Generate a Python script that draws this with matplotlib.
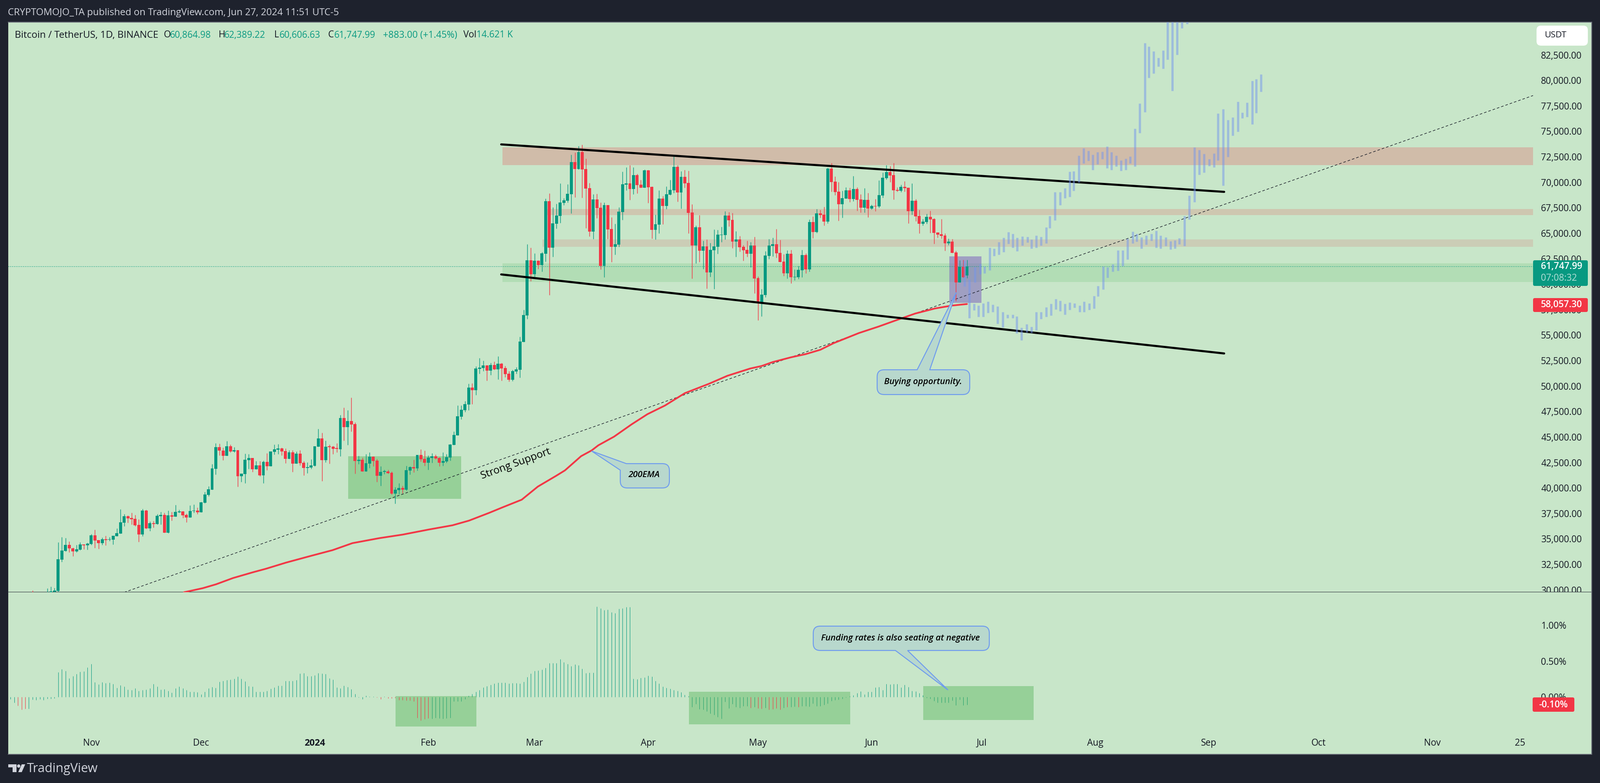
import numpy as np
import matplotlib
matplotlib.use("Agg")
import matplotlib.pyplot as plt
from matplotlib.path import Path
from matplotlib.patches import PathPatch, Rectangle, Circle, Polygon, FancyBboxPatch
from matplotlib.ticker import FuncFormatter

# ------------------------------------------------------------------ data
FIRST_CANDLE_DAY = -77   # days counted from 2024-01-01

candle_open = [
 28500,28400,28300,28700,29600,29700,29810,29915,32976,33829,
 34423,34057,33783,33950,34469,34378,34499,35352,34895,34590,
 34971,34925,34925,35275,35535,36600,37240,37058,36982,36387,
 35443,37789,36037,36540,36464,37240,37362,35611,37332,37180,
 37637,37713,37377,37103,37743,37789,37622,38550,39342,39830,
 41900,44018,43652,43165,44094,43607,43713,41170,41368,42739,
 42952,41825,42221,41246,42571,42145,43546,43759,43881,43622,
 42860,43500,42388,43378,42480,41987,42015,
 42186,44062,44871,42740,44047,44062,43877,43806,46875,45980,
 46577,46278,42655,42783,41632,42399,43081,42697,41205,41603,
 41632,41504,39458,39799,40012,39841,41717,42058,41930,43251,
 42868,42484,42953,43124,42953,42484,42612,42996,44232,45170,
 47003,47643,48197,49859,49603,51694,51779,52035,51523,52077,
 51651,52205,51779,51225,50628,51438,51608,54337,56956,62355,
 60992,62313,61887,62995,68153,63592,65937,66704,67983,68196,
 68835,71990,71308,72970,71308,69432,65169,68324,67514,61801,
 67770,65425,63677,63890,67088,69773,69901,69347,70711,69773,
 69475,71180,69560,65340,65851,68409,67684,68793,69219,71521,
 69006,70541,69944,67045,63805,65596,63293,63720,61162,63336,
 63677,64828,64828,66746,66320,64189,64402,63677,63379,62995,
 63804,60607,58263,58945,62781,63762,63932,63080,62227,61076,
 62994,60692,60692,61375,62866,61460,66106,65126,66959,66831,
 66149,71350,70071,69090,67854,68408,69218,68366,69346,68323,
 67513,68280,67428,67683,67641,68707,70412,71009,70710,69261,
 69176,69559,69474,67172,68195,66703,65936,66106,66618,66405,
 65083,64912,64785,64017,64187,63122,60180,61715,60864.98]
candle_high = [
 29950,28600,28900,29700,30159,30330,30190,34667,35184,35092,
 34773,34165,34438,34667,34469,34651,35504,35915,34895,35124,
 35321,35200,35321,36037,37910,37454,37332,37560,37362,36950,
 37941,37865,36723,36753,37454,37667,37560,37789,37667,38322,
 37865,37758,37484,38307,38398,38093,38657,39616,40180,42358,
 44399,44338,43957,44612,44277,44018,43713,41413,43393,43317,
 42952,42632,42662,42693,43424,43591,44262,44307,43957,43881,
 43728,43698,43576,43713,42662,42527,42811,
 44118,45809,45426,44658,44275,44147,44403,47174,47898,47643,
 48879,46449,43166,42982,43337,43507,43124,42868,42143,41802,
 41802,41632,40097,40481,40225,42186,42143,42783,43251,43806,
 43678,43209,43422,43294,43038,43507,43337,44317,45553,48111,
 48111,48538,50243,50285,51948,52760,52504,52077,52291,52418,
 52930,52291,51992,51481,51608,51864,54848,57482,63933,63592,
 63024,62355,63166,68409,68920,67556,67897,69901,68452,69816,
 72715,72928,73567,73695,72331,69944,68835,68878,68025,68025,
 67770,66576,65936,67556,71052,71478,71692,71478,70839,70242,
 71265,71223,69603,66832,69219,68665,69603,70242,72715,71692,
 71095,71223,71137,67855,65766,66789,64274,64402,64061,65382,
 65340,65638,67173,67088,67002,65212,64743,63848,64274,64146,
 64657,60778,59541,63250,64444,64571,65424,64358,62952,63335,
 63378,61460,61801,63378,63037,66362,66660,67385,67300,67598,
 71435,71904,70582,70028,69176,69517,69474,70625,69517,68834,
 69431,68962,67811,68366,70199,70966,71691,71605,71904,69517,
 69772,70113,69474,69900,68366,67300,66405,66916,67215,66490,
 65083,66405,64998,64486,64443,63293,62355,62397,62389.22]
candle_low = [
 28000,28100,28200,28600,29400,29500,29763,29825,32763,33790,
 33708,33327,33700,33906,33982,33966,34438,34130,34042,34438,
 34393,34800,34469,35275,35535,36265,36600,36417,36265,34712,
 35276,36000,35778,36144,36417,36417,35611,35565,36800,37180,
 37560,37058,36647,37103,37560,37454,37622,38520,39190,39830,
 41322,43200,42739,43165,43500,43500,40149,40606,40484,41900,
 41596,41825,41170,40484,41748,42145,43271,43348,43195,42434,
 42860,41596,42388,42205,41261,41475,41902,
 42129,44062,40708,42527,42413,43351,43507,43124,44658,44232,
 45553,41418,42356,41632,41632,41973,42143,40608,40225,41376,
 41418,39372,38477,39415,39500,39756,41333,41546,41717,42612,
 42186,41802,42484,42825,42143,42186,42484,42697,44232,45170,
 46747,47472,47643,48239,49134,51225,51480,50543,51097,51609,
 50670,50543,50884,50457,50500,51225,50841,54337,56596,60323,
 60750,61503,61247,62228,58945,62697,65468,66022,67770,68025,
 66960,68537,71265,68494,65510,64700,64444,66491,61461,60693,
 64444,62185,62910,63677,66320,69219,68281,68835,68921,69475,
 69475,67983,64487,64402,64999,65894,67386,68750,68963,68111,
 67429,69475,64999,60565,62057,62185,61503,59585,60736,59542,
 62995,64146,64402,65681,63549,62697,63208,62313,62697,61674,
 59115,56472,56855,58732,62483,62738,62610,62184,60820,60564,
 60095,60394,60522,60692,61076,61247,64529,65041,66532,65765,
 65978,69090,68749,66234,66532,68408,68067,68153,67215,67044,
 67044,66575,67342,67172,67513,68493,70284,70028,68323,69090,
 69048,69090,65978,66831,66191,65002,65765,65936,65041,63975,
 64571,64486,63293,63847,63080,58348,60180,60649,60606.63]
candle_close = [
 28400,28300,28700,29600,29700,29869,29930,33007,33859,34423,
 34057,33783,33996,34469,34378,34545,35352,34850,34590,34971,
 34895,34971,35321,35565,36631,37240,37027,36936,36342,35443,
 37789,36037,36540,36464,37256,37362,35611,37332,37180,37667,
 37713,37301,37103,37758,37789,37622,38596,39372,39875,41931,
 44018,43652,43165,44094,43607,43713,41170,41413,42784,42952,
 41825,42221,41246,42571,42145,43591,43804,43881,43591,42860,
 43500,42388,43378,42449,41962,42044,42228,
 44118,44871,42740,44062,44033,43848,43863,46875,45980,46577,
 46236,42655,42783,41632,42442,43081,42655,41205,41589,41632,
 41461,39458,39841,40012,39841,41760,42058,41930,43251,42825,
 42484,42996,43124,42910,42484,42655,43038,44275,45213,47046,
 47685,48239,49859,49603,51735,51822,52035,51523,52077,51651,
 52205,51736,51182,50628,51481,51651,54379,56980,62355,60992,
 62313,61887,63038,68153,63592,65979,66746,68025,68239,68878,
 71990,71308,72970,71265,69390,65169,68324,67471,61801,67770,
 65382,63677,63933,67130,69816,69901,69347,70711,69731,69475,
 71180,69517,65340,65894,68409,67684,68835,69262,71521,69006,
 70541,69901,67002,63805,65596,63293,63720,61162,63379,63720,
 64871,64871,66746,66278,64189,64402,63634,63336,62995,63805,
 60564,58263,58987,62824,63804,63932,63037,62184,61076,62994,
 60692,60735,61417,62866,61460,66106,65126,66959,66788,66149,
 71350,70028,69048,67854,68451,69218,68366,69346,68280,67513,
 68280,67428,67683,67641,68749,70454,71009,70668,69218,69176,
 69559,69431,67172,68195,66660,65936,66149,66618,66362,65041,
 64870,64742,64017,64187,63080,60180,61715,60692,61747.99]

ema_days = [-35.7,-30.5,-26.9,-22.3,-16.9,-13.3,-7.8,-1.5,4.9,10.3,17.6,24,31.2,37.6,42.1,47.6,51.2,
            56.5,60.9,65.9,68.3,72.7,75.6,77.4,81.7,86.5,90.8,95.6,101,107.6,112.6,118.8,122,125,
            130,134,138,141.6,148.5,153.9,159.4,163.9,169.3,173.9,178]
ema_values = [29763,30174,30554,31164,31727,32077,32682,33296,33905,34590,35078,35428,35931,36342,36799,37561,38093,
              38855,40140,41200,41732,43125,43693,44190,45043,46251,47246,48098,49306,50230,51011,51722,51978,52361,
              52830,53143,53569,54213,55207,55847,56557,57125,57623,57907,58057.30]

# price bands: (first day, last day, low, high)
band_days_start = [51.2, 63.4, 62.2, 51.2]
band_days_end = [332.5, 332.5, 332.5, 332.5]
band_low = [71690, 66790, 63680, 60225]
band_high = [73450, 67390, 64400, 62055]

trend_days = [50.9, 248.2]
upper_trend = [73724, 69066]
lower_trend = [60963, 53206]
support_days = [-52, 332.5]
support_prices = [29763, 78518]

# projected price paths (bars pattern)
path_a_days = [177.3,178.7,180.0,181.1,182.4,183.8,185.1,186.4,187.8,189.1,190.5,191.6,192.9,194.3,195.6,196.9,
 198.2,199.6,200.9,202.2,203.4,204.7,206.0,207.4,208.8,210.0,211.4,212.7,213.8,215.2,216.4,217.8,219.2,220.5,
 221.8,223.2,224.3,225.6,226.9,228.3,229.6,230.9,232.3,233.6,234.7,236.0,237.4,238.7,240.1,241.4,242.7,244.1,
 245.4,246.5,247.9,249.2,250.5,251.9,253.2,254.5,255.9,256.9,258.3]
path_a_high = [62310,60483,58090,57916,58133,58307,58003,57829,57285,57024,57024,56850,55740,56088,55827,57285,
 57285,57742,58090,58568,58394,58090,58220,58133,57916,58307,58133,58851,59830,61766,61657,61962,63333,63333,
 64486,65160,64964,64616,64790,64964,65247,64790,64616,64225,64312,64529,66683,68706,73449,73188,72796,72296,
 72840,76755,77191,76125,76386,77908,76842,77821,79953,80127,80606]
path_a_low = [59808,56676,57437,56828,56828,57176,57263,56132,55784,56676,56676,55174,54522,55261,55218,55479,
 56610,56828,56915,57524,57350,57002,57480,57698,57263,57263,57480,57611,58829,59482,60657,61244,61309,61788,
 62441,64029,64181,63485,63876,64290,63572,63485,63746,63398,63485,63920,63746,66378,68053,70751,70969,71621,
 71491,72165,69707,72491,74580,74972,76277,76429,75711,76799,78887]
path_b_days = [180.2,181.6,182.8,184.2,185.4,186.7,188.0,189.3,190.5,191.7,193.1,194.5,195.6,196.9,198.2,199.6,
 200.6,202.0,203.4,204.7,206.0,207.1,208.5,209.8,211.1,212.3,213.6,214.9,216.3,217.4,218.7,220.0,221.3,222.5,
 223.8,225.2,226.6,227.6,228.9,230.2,231.6,232.7,234.1,235.4,236.7,238.1]
path_b_high = [61657,62006,61766,63594,63507,64138,64573,65117,64964,64573,64703,64660,64399,64790,64660,65595,
 66705,69054,69054,69424,71056,71099,72622,73362,73101,72709,72970,73014,73514,72970,72622,72165,72339,72535,
 75276,77756,83674,83325,82869,82216,82956,87000,88500,88000,86500,86200]
path_b_low = [60178,60983,61070,61353,62767,62919,63159,63963,63572,63267,63811,64116,63485,63572,63811,64007,
 65486,66291,67749,68467,68597,69163,69968,71861,72122,71230,71795,72296,71404,71230,71578,71143,71230,71861,
 71578,74841,76908,80280,80671,81367,81172,82042,78996,82542,85109,85566]

FIRST_FUNDING_DAY = -83
funding_rate = [
 -.026,-.075,-.119,-.176,-.162,-.160,-.034,-.038,-.030,-.038,-.020,-.020,-.014,
 .345,.390,.366,.265,.293,.325,.354,.360,.414,.463,
 .208,.178,.208,.196,.200,.184,.131,.166,.147,.105,
 .099,.123,.087,.101,.105,.123,.184,.147,.105,.111,
 .087,.063,.123,.147,.123,.099,.077,.077,.069,.038,
 .073,.123,.141,.129,.216,.226,.238,.244,.257,.287,
 .259,.220,.156,.147,.075,.075,.075,.087,.117,.135,
 .160,.160,.226,.226,.226,.238,.329,.335,.293,.293,
 .305,.335,.329,.325,.263,.244,.135,.123,.160,.141,
 .111,.044,-.004,-.026,.020,.008,.006,-.004,-.026,.006,
 -.014,-.014,-.010,-.038,-.038,-.044,-.044,-.059,-.289,-.325,
 -.307,-.293,-.301,-.289,-.293,-.301,-.293,-.289,-.059,-.059,
 -.059,-.028,.020,.044,.075,.099,.135,.154,.172,.190,
 .204,.202,.202,.190,.196,.196,.192,.212,.281,.329,
 .366,.372,.384,.408,.475,.475,.475,.529,.487,.463,
 .432,.457,.444,.396,.335,.341,.341,1.263,1.238,1.214,
 1.220,1.184,1.172,1.232,1.238,1.257,1.257,.257,.251,.269,
 .275,.299,
 .287,.228,.192,.147,.127,.117,.097,.087,.071,.030,.016,
 -.135,-.095,-.166,-.176,-.196,-.226,-.246,-.277,-.301,-.065,-.156,-.095,-.135,-.147,-.125,-.125,
 -.147,-.139,-.156,-.160,-.152,-.172,-.166,-.156,-.172,-.152,-.139,-.135,-.131,-.135,-.125,-.127,
 -.129,-.091,-.127,-.125,-.105,-.087,-.055,-.038,-.034,-.024,-.004,.016,.026,.057,.083,.036,
 .075,.075,.137,.143,.097,.184,.180,.184,.184,.137,.172,.141,.087,.083,.057,.026,
 -.008,-.024,-.055,-.079,-.079,-.079,-.075,-.044,-.115,-.034,-.115,-.105]
funding_red_days = [-81,-80,-79,17,18,20,21,22,23,24,25,26,27,28,29,30,31,
                    119,121,122,124,125,126,127,129,132]

# zones: (first day, last day, low, high)
price_zone = (9.13, 39.98, 38960, 43124)
entry_zone = (173.2, 182.0, 58177, 62738)
funding_zone_start = [22.06, 102.1, 166.1]
funding_zone_end = [44.1, 146.2, 196.2]
funding_zone_low = [-.41, -.38, -.32]
funding_zone_high = [.014, .075, .153]

price_ticks = list(range(30000, 82501, 2500))
funding_ticks = [0, 0.5, 1.0]
month_days = [-61,-31,0,31,60,91,121,152,182,213,244,274,305,329]
month_labels = ["Nov","Dec","2024","Feb","Mar","Apr","May","Jun","Jul","Aug","Sep","Oct","Nov","25"]
last_close = 61747.99
last_ema = 58057.30

# ------------------------------------------------------------------ style
W, H = 3681, 1802
PT = 0.72  # points per pixel at dpi 100
BG = "#C8E6C9"; FRAME = "#1E222D"; UP = "#089981"; DOWN = "#F23645"
INK = "#131722"; FONT = "Open Sans"
plt.rcParams["font.family"] = FONT
L, R, T, MID, B = 19, 3662, 51, 1363, 1736
XLIM = ((L - 724) / 8.43, (R - 724) / 8.43)

fig = plt.figure(figsize=(W / 100, H / 100), dpi=100, facecolor=FRAME)
def axes_px(x0, y0, x1, y1):
    return fig.add_axes([x0 / W, 1 - y1 / H, (x1 - x0) / W, (y1 - y0) / H])
ax = axes_px(L, T, R, MID)
fx = axes_px(L, MID, R, B)
for a in (ax, fx):
    a.set_facecolor(BG)
    a.set_xlim(*XLIM)
    a.set_axisbelow(True)
    a.spines["left"].set_visible(False)
    for s in ("top", "right", "bottom"):
        a.spines[s].set_color("#6a6e78")
        a.spines[s].set_linewidth(2 * PT)
ax.spines["bottom"].set_color("#2A2E39")
fx.spines["top"].set_visible(False)
ax.set_ylim(29771, 85720)
fx.set_ylim(-0.797, 1.461)

# ------------------------------------------------------------------ price pane
band_colors = ["#D0BCA9", "#CEC7B0", "#CBCDB6", "#B2DDB5"]
for s, e, lo, hi, c in zip(band_days_start, band_days_end, band_low, band_high, band_colors):
    ax.add_patch(Rectangle((s, lo), e - s, hi - lo, fc=c, ec="none", zorder=1))
z = price_zone
ax.add_patch(Rectangle((z[0], z[2]), z[1] - z[0], z[3] - z[2], fc="#4CAF50", alpha=.4, ec="none", zorder=1.2))
z = entry_zone
ax.add_patch(Rectangle((z[0], z[2]), z[1] - z[0], z[3] - z[2], fc="#785ABD", alpha=.5, ec="none", zorder=1.2))

ax.hlines(last_close, XLIM[0], band_days_end[0], color=UP, lw=1.2 * PT, ls=(0, (1.5, 2)), zorder=1.5)
ax.plot(support_days, support_prices, color="#131722", lw=1.3 * PT, ls=(0, (4.5, 3.5)), zorder=2)

days = np.arange(FIRST_CANDLE_DAY, FIRST_CANDLE_DAY + len(candle_open))
o, h, l, c = map(np.array, (candle_open, candle_high, candle_low, candle_close))
cols = np.where(c >= o, UP, DOWN)
ax.vlines(days, l, h, colors=cols, lw=1.4 * PT, zorder=3)
ax.bar(days, np.maximum(np.abs(c - o), 50), bottom=np.minimum(o, c), width=0.82, color=cols, lw=0, zorder=3.1)

ax.plot(ema_days, ema_values, color=DOWN, lw=4 * PT, zorder=3.5, solid_capstyle="round")
for tr in (upper_trend, lower_trend):
    ax.plot(trend_days, tr, color="black", lw=4.8 * PT, zorder=4, solid_capstyle="round")

GHOST = "#7496ED"
for dd, hi, lo in ((path_a_days, path_a_high, path_a_low), (path_b_days, path_b_high, path_b_low)):
    ax.vlines(dd, lo, hi, colors=GHOST, lw=5.2 * PT, alpha=.5, zorder=5)

ax.set_xticks([])
ax.yaxis.tick_right()
ax.set_yticks(price_ticks)
ax.yaxis.set_major_formatter(FuncFormatter(lambda v, _: f"{v:,.2f}"))
ax.tick_params(axis="y", length=0, pad=-117 * PT, labelsize=21 * PT, labelcolor=INK)
for t in ax.get_yticklabels():
    t.set_ha("left")
    t.set_clip_on(True)
    t.set_clip_box(ax.bbox)

# ------------------------------------------------------------------ funding pane
fdays = np.arange(FIRST_FUNDING_DAY, FIRST_FUNDING_DAY + len(funding_rate))
fvals = np.array(funding_rate)
is_red = np.isin(fdays, funding_red_days)
fx.vlines(fdays[~is_red], 0, fvals[~is_red], colors=UP, lw=1.0 * PT, zorder=1)
for s, e, lo, hi in zip(funding_zone_start, funding_zone_end, funding_zone_low, funding_zone_high):
    fx.add_patch(Rectangle((s, lo), e - s, hi - lo, fc="#4CAF50", alpha=.4, ec="none", zorder=2))
fx.vlines(fdays[is_red], 0, fvals[is_red], colors=DOWN, lw=1.0 * PT, zorder=3)

fx.set_xticks(month_days)
fx.set_xticklabels(month_labels)
fx.tick_params(axis="x", length=0, pad=-36 * PT, labelsize=21 * PT, labelcolor=INK)
fx.get_xticklabels()[2].set_fontweight("bold")
fx.yaxis.tick_right()
fx.set_yticks(funding_ticks)
fx.yaxis.set_major_formatter(FuncFormatter(lambda v, _: f"{v:.2f}%"))
fx.tick_params(axis="y", length=0, pad=-117 * PT, labelsize=21 * PT, labelcolor=INK)
for t in fx.get_yticklabels():
    t.set_ha("left")

# ------------------------------------------------------------------ overlay: annotations, badges, headers
ov = fig.add_axes([0, 0, 1, 1], zorder=10)
ov.set_xlim(0, W); ov.set_ylim(H, 0); ov.axis("off"); ov.patch.set_visible(False)

def round_poly(pts):
    verts, codes = [], []
    n = len(pts)
    for i, (x, y, r) in enumerate(pts):
        p = np.array([x, y], float)
        a = np.array(pts[i - 1][:2], float); b = np.array(pts[(i + 1) % n][:2], float)
        if r == 0:
            verts.append(p); codes.append(Path.LINETO)
        else:
            pa = p + (a - p) / np.linalg.norm(a - p) * r
            pb = p + (b - p) / np.linalg.norm(b - p) * r
            verts += [pa, p, pb]; codes += [Path.LINETO, Path.CURVE3, Path.CURVE3]
    codes[0] = Path.MOVETO
    verts.append(verts[0]); codes.append(Path.CLOSEPOLY)
    return Path(verts, codes)

CALL_FC, CALL_EC = "#B8D8CD", "#6E9BEE"
def callout(pts, txt, cx, cy, size):
    ov.add_patch(PathPatch(round_poly(pts), fc=CALL_FC, ec=CALL_EC, lw=2.2 * PT, zorder=2))
    ov.text(cx, cy, txt, ha="center", va="center", style="italic", fontweight="semibold",
            fontsize=size * PT, color="black", zorder=3)

callout([(2018,851,16),(2110,851,0),(2200,673,0),(2139,851,0),(2231,851,16),(2231,908,16),(2018,908,16)],
        "Buying opportunity.", 2124, 879, 20)
callout([(1441,1067,0),(1361,1038,0),(1427,1082,0),(1427,1123,16),(1540,1123,16),(1540,1067,16)],
        "200EMA", 1481, 1093, 20)
callout([(1871,1441,16),(2276,1441,16),(2276,1497,16),(2088,1497,0),(2181,1588,0),(2060,1497,0),(1871,1497,16)],
        "Funding rates is also seating at negative", 2072, 1469, 20)

ov.text(1187, 1068, "Strong Support", rotation=20, rotation_mode="anchor", ha="center", va="center",
        fontsize=24 * PT, color="black")

# right-hand badges
def badge(x0, y0, x1, y1, fc, r=4):
    ov.add_patch(FancyBboxPatch((x0 + r, y0 + r), x1 - x0 - 2 * r, y1 - y0 - 2 * r,
                                boxstyle=f"round,pad={r},rounding_size={r}", fc=fc, ec="none", zorder=2))
badge(3535, 59, 3653, 105, "white", r=10)
ov.text(3553, 81, "USDT", ha="left", va="center", fontsize=20 * PT, color=INK, zorder=3)
badge(3527, 599, 3653, 658, UP)
ov.text(3545, 614, f"{last_close:,.2f}", ha="left", va="center", fontsize=21 * PT, color="white", fontweight="semibold", zorder=3)
ov.text(3545, 640, "07:08:32", ha="left", va="center", fontsize=21 * PT, color="#B5E0D8", zorder=3)
badge(3527, 686, 3653, 718, DOWN)
ov.text(3545, 702, f"{last_ema:,.2f}", ha="left", va="center", fontsize=21 * PT, color="white", fontweight="semibold", zorder=3)
badge(3526, 1605, 3622, 1638, DOWN)
ov.text(3574, 1622, "-0.10%", ha="center", va="center", fontsize=21 * PT, color="white", fontweight="semibold", zorder=3)

# header rows
ov.text(18, 30, "CRYPTOMOJO_TA published on TradingView.com, Jun 27, 2024 11:51 UTC-5", ha="left", va="center",
        fontsize=22 * PT, color="#D1D4DC")
legend_parts = [(34, "Bitcoin / TetherUS, 1D, BINANCE", 22.3, INK), (377, "O", 21, INK), (391, "60,864.98", 21, UP),
                (503, "H", 21, INK), (516, "62,389.22", 21, UP), (631, "L", 21, INK), (643, "60,606.63", 21, UP),
                (755, "C", 21, INK), (769, "61,747.99", 21, UP), (881, "+883.00 (+1.45%)", 21.5, UP),
                (1066, "Vol", 21, INK), (1096, "14.621 K", 21, UP)]
for x, s, size, col in legend_parts:
    ov.text(x, 81, s, ha="left", va="center", fontsize=size * PT, color=col)

# TradingView mark
LOGO = "#D1D4DC"
ov.add_patch(Polygon([(19,1759),(38,1759),(38,1777),(29,1777),(29,1766),(19,1766)], fc=LOGO, ec="none"))
ov.add_patch(Circle((43, 1763), 3.8, fc=LOGO, ec="none"))
ov.add_patch(Polygon([(50,1759),(58,1759),(50,1777),(42,1777)], fc=LOGO, ec="none"))
ov.text(62, 1770, "TradingView", ha="left", va="center", fontsize=29 * PT, color=LOGO)

fig.savefig("out.png", dpi=100, facecolor=FRAME)
